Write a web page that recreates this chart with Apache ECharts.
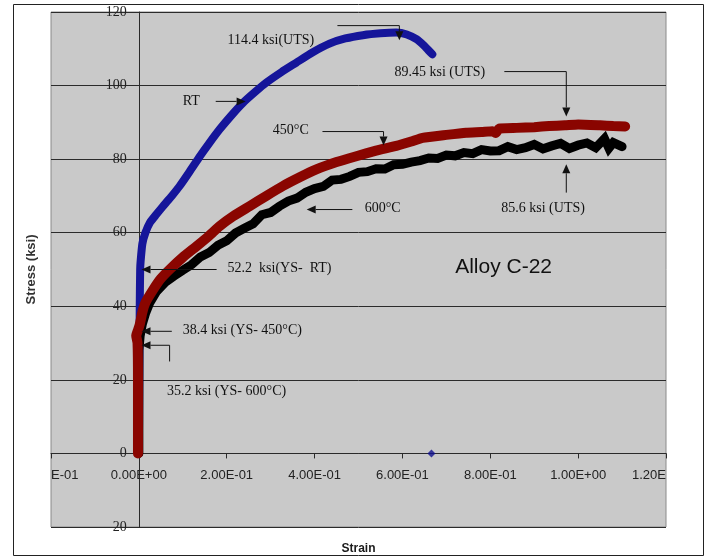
<!DOCTYPE html>
<html>
<head>
<meta charset="utf-8">
<script src="https://cdn.jsdelivr.net/npm/echarts@6/dist/echarts.min.js"></script>
<style>
  html, body { margin: 0; padding: 0; background: #fff; }
  #chart { width: 709px; height: 559px; }
</style>
</head>
<body>
<div id="chart"></div>
<script>
// Tensile stress–strain curves, Alloy C-22 (strain, stress in ksi)
const rtCurve = [
  [0, 0], [0.001, 20], [0.002, 40], [0.003, 50], [0.004, 52.2], [0.008, 57],
  [0.015, 60], [0.025, 62.7], [0.04, 65], [0.055, 67.2], [0.075, 70],
  [0.093, 72.7], [0.115, 76.5], [0.139, 80.8], [0.16, 84.3], [0.184, 88.1],
  [0.21, 91.8], [0.237, 95.3], [0.265, 98.3], [0.29, 100.8], [0.325, 103.7],
  [0.358, 106.2], [0.395, 109], [0.434, 111.4], [0.47, 112.8], [0.51, 113.7],
  [0.55, 114.2], [0.586, 114.4], [0.61, 113.9], [0.632, 112.6], [0.648, 111],
  [0.66, 109.5], [0.668, 108.5]
];
const rtFracture = [[0.666, 0]];

const c450Curve = [
  [-0.002, 0], [-0.002, 20], [-0.003, 30], [-0.006, 32], [-0.002, 33.5],
  [0.002, 35], [0.008, 38.4], [0.015, 41], [0.033, 44.6], [0.05, 47.5],
  [0.07, 50], [0.1, 53.3], [0.131, 56.3], [0.16, 59.2], [0.184, 61.8],
  [0.215, 64.5], [0.252, 67.2], [0.29, 70], [0.328, 72.7], [0.365, 75],
  [0.404, 77.2], [0.45, 79.2], [0.495, 80.8], [0.54, 82.3], [0.586, 83.6],
  [0.62, 84.8], [0.646, 85.8], [0.7, 86.6], [0.745, 87.2], [0.78, 87.4],
  [0.805, 87.6], [0.812, 87.1], [0.82, 88.3], [0.86, 88.5], [0.9, 88.7],
  [0.934, 89.0], [0.97, 89.2], [1.0, 89.45], [1.05, 89.2], [1.08, 89.0],
  [1.107, 88.9]
];

const c600Curve = [
  [0, 0], [0, 20], [0, 28], [0.003, 32], [0.008, 35.2], [0.015, 38],
  [0.025, 41], [0.04, 44], [0.06, 46.5], [0.08, 48.2], [0.10, 49.8],
  [0.12, 51.3], [0.14, 53.4], [0.16, 54.6], [0.18, 56.6], [0.20, 57.8],
  [0.22, 59.9], [0.24, 61.2], [0.26, 62.4], [0.28, 64.9], [0.30, 65.5],
  [0.32, 67.2], [0.34, 68.6], [0.36, 69.4], [0.38, 71.0], [0.40, 72.0],
  [0.42, 72.6], [0.44, 74.3], [0.46, 74.5], [0.48, 75.3], [0.50, 76.4],
  [0.52, 76.6], [0.54, 77.4], [0.56, 77.3], [0.58, 78.5], [0.60, 78.6],
  [0.62, 79.2], [0.64, 79.6], [0.66, 80.3], [0.68, 80.2], [0.70, 81.1],
  [0.72, 80.9], [0.74, 81.8], [0.76, 81.5], [0.78, 82.6], [0.80, 82.2],
  [0.82, 82.3], [0.84, 83.4], [0.86, 82.6], [0.88, 83.1], [0.90, 84.0],
  [0.92, 82.8], [0.94, 83.6], [0.96, 84.3], [0.98, 82.9], [1.00, 83.8],
  [1.02, 84.4], [1.04, 83.1], [1.06, 85.6], [1.07, 83.0], [1.08, 84.5],
  [1.10, 83.4]
];

const xTickLabels = ['E-01', '0.00E+00', '2.00E-01', '4.00E-01', '6.00E-01',
                     '8.00E-01', '1.00E+00', '1.20E'];
const yTickLabels = ['20', '0', '20', '40', '60', '80', '100', '120'];

const X_MIN = -0.2, X_MAX = 1.2, X_STEP = 0.2;
const Y_MIN = -20, Y_MAX = 120, Y_STEP = 20;

// Callouts, placed in data space (strain, stress)
const callouts = [
  { text: '114.4 ksi(UTS)', at: [0.202, 112.4] },
  { text: 'RT', at: [0.1, 95.8] },
  { text: '450°C', at: [0.305, 87.7] },
  { text: '600°C', at: [0.514, 66.7] },
  { text: '89.45 ksi (UTS)', at: [0.582, 103.7] },
  { text: '85.6 ksi (UTS)', at: [0.825, 66.7] },
  { text: '52.2  ksi(YS-  RT)', at: [0.202, 50.4] },
  { text: '38.4 ksi (YS- 450°C)', at: [0.1, 33.6] },
  { text: '35.2 ksi (YS- 600°C)', at: [0.064, 17.0] }
];
const arrowPaths = [
  [[0.452, 116.3], [0.593, 116.3], [0.593, 112.3]],
  [[0.175, 95.7], [0.243, 95.7]],
  [[0.418, 87.5], [0.557, 87.5], [0.557, 83.7]],
  [[0.486, 66.3], [0.382, 66.3]],
  [[0.832, 103.8], [0.973, 103.8], [0.973, 91.6]],
  [[0.973, 70.9], [0.973, 78.6]],
  [[0.177, 50.0], [0.006, 50.0]],
  [[0.075, 33.2], [0.006, 33.2]],
  [[0.07, 25.0], [0.07, 29.4], [0.006, 29.4]]
];
const titleNote = { text: 'Alloy C-22', at: [0.72, 50.6] };

const W = 709, H = 559;
const G = { left: 51, top: 12, right: 43, bottom: 32 };
const plotW = W - G.left - G.right;
const plotH = H - G.top - G.bottom;
// axes cross at (0, 0): shift each axis from the grid edge onto the zero line
const xAxisShift = -plotH * (0 - Y_MIN) / (Y_MAX - Y_MIN);
const yAxisShift = -plotW * (0 - X_MIN) / (X_MAX - X_MIN);

const chart = echarts.init(document.getElementById('chart'), null, { renderer: 'canvas' });

const ink = '#1a1a1a';
const serif = "'Liberation Serif', 'Times New Roman', serif";
const sans = "'Liberation Sans', Arial, sans-serif";

chart.setOption({
  animation: false,
  backgroundColor: '#ffffff',
  grid: {
    left: G.left, top: G.top, right: G.right, bottom: G.bottom,
    containLabel: false, outerBoundsMode: 'none',
    show: true, backgroundColor: '#c9c9c9', borderColor: '#8a8a8a', borderWidth: 1
  },
  xAxis: {
    type: 'value', min: X_MIN, max: X_MAX, interval: X_STEP,
    offset: xAxisShift,
    name: 'Strain', nameLocation: 'middle', nameGap: 89,
    nameTextStyle: { fontFamily: sans, fontWeight: 'bold', fontSize: 12, color: ink },
    axisLine: { onZero: false, lineStyle: { color: '#2a2a2a', width: 1 } },
    axisTick: { show: true, length: 5, lineStyle: { color: '#2a2a2a' } },
    axisLabel: {
      margin: 15, fontFamily: sans, fontSize: 13, color: '#222',
      alignMinLabel: 'left', alignMaxLabel: 'right',
      formatter: v => xTickLabels[Math.round((v - X_MIN) / X_STEP)]
    },
    splitLine: { show: false }
  },
  yAxis: {
    type: 'value', min: Y_MIN, max: Y_MAX, interval: Y_STEP,
    offset: yAxisShift,
    name: 'Stress (ksi)', nameLocation: 'middle', nameGap: 101, nameRotate: 90,
    nameTextStyle: { fontFamily: sans, fontWeight: 'bold', fontSize: 13, color: '#333' },
    axisLine: { show: true, onZero: false, lineStyle: { color: '#2a2a2a', width: 1 } },
    axisTick: { show: false },
    axisLabel: {
      margin: 12, fontFamily: serif, fontSize: 14, color: '#222',
      formatter: v => yTickLabels[Math.round((v - Y_MIN) / Y_STEP)]
    },
    splitLine: { show: true, lineStyle: { color: '#2b2b2b', width: 1 } }
  },
  series: [
    {
      name: 'RT', type: 'line', data: rtCurve, showSymbol: false, smooth: 0.2,
      lineStyle: { color: '#15159a', width: 8, cap: 'round', join: 'round' }, z: 2
    },
    {
      name: 'RT fracture', type: 'scatter', data: rtFracture, symbol: 'diamond',
      symbolSize: 8, itemStyle: { color: '#10108f' }, z: 2
    },
    {
      name: '600°C', type: 'line', data: c600Curve, showSymbol: false,
      lineStyle: { color: '#000000', width: 9, cap: 'round', join: 'miter' }, z: 3
    },
    {
      name: '450°C', type: 'line', data: c450Curve, showSymbol: false, smooth: 0.15,
      lineStyle: { color: '#8a0500', width: 10, cap: 'round', join: 'round' }, z: 4
    }
  ]
});

// Callout texts and arrows, placed from data coordinates
function px(p) { return chart.convertToPixel({ gridIndex: 0 }, p); }

const graphics = [];
callouts.forEach(c => {
  const p = px(c.at);
  graphics.push({
    type: 'text', x: p[0], y: p[1], z: 20,
    style: { text: c.text, font: '14px ' + serif, fill: '#111',
             textAlign: 'left', textVerticalAlign: 'middle' }
  });
});
{
  const p = px(titleNote.at);
  graphics.push({
    type: 'text', x: p[0], y: p[1], z: 20,
    style: { text: titleNote.text, font: '21px ' + sans, fill: '#111',
             textAlign: 'left', textVerticalAlign: 'middle' }
  });
}
arrowPaths.forEach(path => {
  const pts = path.map(px);
  const tip = pts[pts.length - 1];
  const prev = pts[pts.length - 2];
  const dx = tip[0] - prev[0], dy = tip[1] - prev[1];
  const len = Math.hypot(dx, dy) || 1;
  const ux = dx / len, uy = dy / len;
  const headLen = 9, headHalf = 4;
  const base = [tip[0] - ux * headLen, tip[1] - uy * headLen];
  const shaft = pts.slice(0, -1).concat([base]);
  graphics.push({
    type: 'polyline', z: 20,
    shape: { points: shaft },
    style: { stroke: '#111', lineWidth: 1, fill: null }
  });
  graphics.push({
    type: 'polygon', z: 20,
    shape: { points: [tip,
      [base[0] - uy * headHalf, base[1] + ux * headHalf],
      [base[0] + uy * headHalf, base[1] - ux * headHalf]] },
    style: { fill: '#111' }
  });
});
// outer frame of the figure
graphics.push({
  type: 'rect', z: 30,
  shape: { x: 13.5, y: 4.5, width: 690, height: 551 },
  style: { stroke: '#222', lineWidth: 1, fill: null }
});

chart.setOption({ graphic: graphics });
</script>
</body>
</html>
